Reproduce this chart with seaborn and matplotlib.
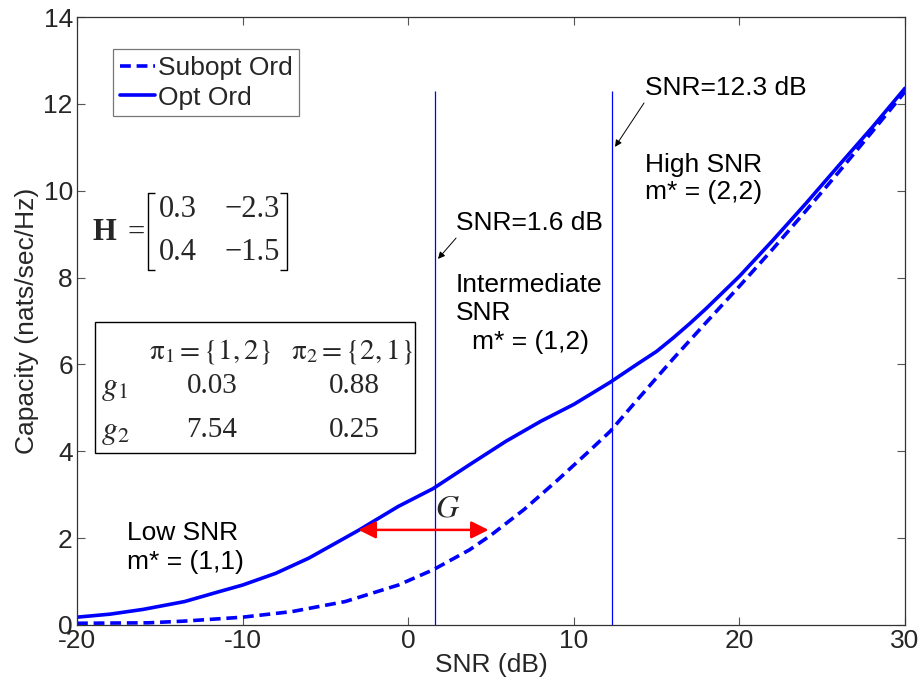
import numpy as np
import pandas as pd
import matplotlib
matplotlib.use("Agg")
import matplotlib.pyplot as plt
from matplotlib.patches import Rectangle
import seaborn as sns

# ---- data ----
snr_opt = [-20, -18, -16, -13.5, -11.4, -10, -8, -6, -3, -0.6, 1.5, 3.7, 5.9, 8, 10,
           12.2, 13.8, 15, 16, 17, 18, 20, 22, 24, 26, 28, 30]
cap_opt = [0.18, 0.25, 0.36, 0.54, 0.77, 0.92, 1.19, 1.54, 2.18, 2.73, 3.14, 3.69, 4.23, 4.69, 5.08,
           5.59, 6.0, 6.3, 6.61, 6.94, 7.29, 8.03, 8.85, 9.7, 10.58, 11.45, 12.36]

snr_sub = [-20, -15.7, -13.5, -10, -7, -3.8, -0.6, 1.5, 3.7, 5, 7, 9, 10.8, 12.2, 13.8,
           16, 18, 20, 22, 24, 26, 28, 30]
cap_sub = [0.04, 0.05, 0.09, 0.18, 0.31, 0.54, 0.92, 1.27, 1.73, 2.07, 2.66, 3.33, 3.96, 4.46, 5.17,
           6.13, 6.97, 7.8, 8.65, 9.53, 10.43, 11.35, 12.28]

series_names = ["Subopt Ord", "Opt Ord"]
regime_bounds = [1.6, 12.3]
bound_top = 12.3
gap_level = 2.19
gap_from, gap_to = -3.0, 4.85

x_ticks = [-20, -10, 0, 10, 20, 30]
y_ticks = [0, 2, 4, 6, 8, 10, 12, 14]

H_vals = [["0.3", "\u22122.3"], ["0.4", "\u22121.5"]]
g_vals = [["0.03", "0.88"], ["7.54", "0.25"]]

df = pd.concat([
    pd.DataFrame({"SNR": snr_sub, "Capacity": cap_sub, "series": series_names[0]}),
    pd.DataFrame({"SNR": snr_opt, "Capacity": cap_opt, "series": series_names[1]}),
], ignore_index=True)

# ---- style ----
sns.set_style("ticks")
plt.rcParams["font.family"] = ["Liberation Sans", "DejaVu Sans"]
plt.rcParams["mathtext.fontset"] = "stix"
plt.rcParams["axes.unicode_minus"] = False
plt.rcParams["xtick.direction"] = "in"
plt.rcParams["ytick.direction"] = "in"

FS = 19

fig = plt.figure(figsize=(9.2, 6.86), dpi=100)
ax = fig.add_axes([77 / 920, 61 / 686, 828 / 920, 608 / 686])

sns.lineplot(data=df, x="SNR", y="Capacity", style="series",
             style_order=series_names,
             dashes={series_names[0]: (3, 1.6), series_names[1]: ""},
             color="#0000FF", linewidth=2.6, ax=ax, sort=False)

ax.vlines(regime_bounds, 0, bound_top, color="#0000FF", lw=0.9)

ax.set_xlim(-20, 30)
ax.set_ylim(0, 14)
ax.set_xticks(x_ticks)
ax.set_yticks(y_ticks)
ax.tick_params(axis="both", which="both", direction="in", length=6, width=0.8,
               top=True, right=True, labelsize=FS, pad=3, color="#555555")
for sp in ax.spines.values():
    sp.set_visible(True)
    sp.set_linewidth(0.9)
    sp.set_color("#333333")
ax.set_xlabel("SNR (dB)", fontsize=FS, labelpad=0)
ax.set_ylabel("Capacity (nats/sec/Hz)", fontsize=FS, labelpad=3)

# legend
leg = ax.legend(loc="upper left", bbox_to_anchor=(0.0435, 0.947), borderaxespad=0,
                fontsize=FS, frameon=True, fancybox=False, handlelength=1.35,
                handletextpad=0.1, labelspacing=0.22, borderpad=0.25, title=None)
leg.get_frame().set_edgecolor("#555555")
leg.get_frame().set_linewidth(0.9)
for h in leg.get_lines():
    h.set_linewidth(2.6)

# ---- annotations ----
txt = dict(fontsize=FS, color="black", va="center", ha="left")
ax.text(14.30, 12.36, "SNR=12.3 dB", **txt)
ax.text(14.30, 10.59, "High SNR", **txt)
ax.text(14.30, 9.97, "m* = (2,2)", **txt)
ax.text(2.89, 9.26, "SNR=1.6 dB", **txt)
ax.text(2.89, 7.83, "Intermediate", **txt)
ax.text(2.89, 7.18, "SNR", **txt)
ax.text(3.85, 6.52, "m* = (1,2)", **txt)
ax.text(-16.98, 2.12, "Low SNR", **txt)
ax.text(-16.98, 1.45, "m* = (1,1)", **txt)

ax.annotate("", xy=(12.49, 11.01), xytext=(14.24, 12.02),
            arrowprops=dict(arrowstyle="-|>", color="black", lw=0.7,
                            mutation_scale=10, shrinkA=0, shrinkB=0))
ax.annotate("", xy=(1.80, 8.43), xytext=(2.89, 8.91),
            arrowprops=dict(arrowstyle="-|>", color="black", lw=0.7,
                            mutation_scale=10, shrinkA=0, shrinkB=0))

# gap arrow G
ax.annotate("", xy=(gap_to, gap_level), xytext=(gap_from, gap_level),
            arrowprops=dict(arrowstyle="<|-|>", color="#FF0000", lw=1.8,
                            mutation_scale=26, shrinkA=0, shrinkB=0))
ax.text(2.4, 2.68, "$G$", fontsize=23, ha="center", va="center")

# H matrix
serif = ["Liberation Serif", "DejaVu Serif"]
ax.text(-19.08, 9.03, "H", fontsize=22, fontweight="bold", family=serif,
        ha="left", va="center")
ax.text(-16.44, 9.03, "=", fontsize=22, family=serif, ha="center", va="center")
col_x = [-13.90, -9.45]
row_y = [9.56, 8.57]
for i in range(2):
    for j in range(2):
        ax.text(col_x[j], row_y[i], H_vals[i][j], fontsize=22, family=serif,
                ha="center", va="center")
bt, bb, tick = 9.95, 8.17, 0.45
for bx, d in [(-15.71, 1), (-7.32, -1)]:
    ax.plot([bx + d * tick, bx, bx, bx + d * tick], [bt, bt, bb, bb],
            color="black", lw=1.0, solid_capstyle="butt")

# gain table
ax.add_patch(Rectangle((-18.91, 3.96), 19.32, 3.02, fill=False,
                       edgecolor="black", lw=1.0))
ax.text(-11.97, 6.29, r"$\mathrm{\pi}_1 = \{1,2\}$", fontsize=21,
        ha="center", va="center")
ax.text(-3.39, 6.29, r"$\mathrm{\pi}_2 = \{2,1\}$", fontsize=21,
        ha="center", va="center")
tab_rows = [5.45, 4.45]
ax.text(-18.55, tab_rows[0], r"$g_1$", fontsize=23, ha="left", va="center")
ax.text(-18.55, tab_rows[1], r"$g_2$", fontsize=23, ha="left", va="center")
tab_cols = [-11.85, -3.27]
for i in range(2):
    for j in range(2):
        ax.text(tab_cols[j], tab_rows[i] + 0.05, g_vals[i][j], fontsize=21,
                family=serif, ha="center", va="center")

fig.savefig("out.png", dpi=100)
